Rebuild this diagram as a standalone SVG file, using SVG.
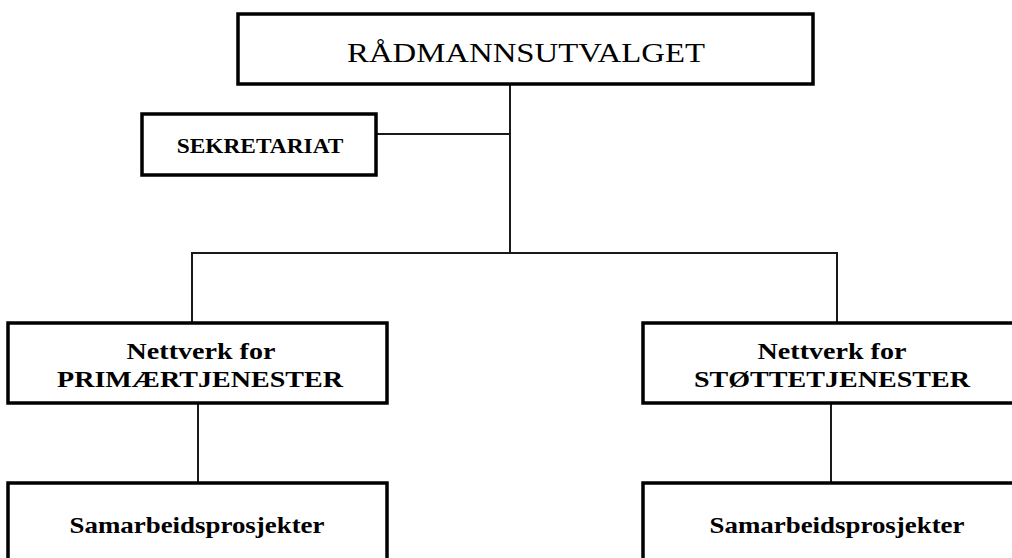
<svg xmlns="http://www.w3.org/2000/svg" width="1012" height="558" viewBox="0 0 1012 558">
<style>
.box{fill:#fff;stroke:#000;stroke-width:3.5}
.con{stroke:#1a1a1a;stroke-width:2;fill:none}
.t{font-family:"Liberation Serif","Times New Roman",serif;fill:#000;text-anchor:middle}
.b{font-weight:bold}
</style>
<rect width="1012" height="558" fill="#fff"/>
<g id="connectors">
<line class="con" x1="510" y1="84" x2="510" y2="253"/>
<line class="con" x1="376" y1="134" x2="510" y2="134"/>
<line class="con" x1="191" y1="253" x2="838" y2="253"/>
<line class="con" x1="192" y1="253" x2="192" y2="323"/>
<line class="con" x1="837" y1="253" x2="837" y2="323"/>
<line class="con" x1="198" y1="403" x2="198" y2="483"/>
<line class="con" x1="831" y1="403" x2="831" y2="483"/>
</g>
<g id="radmannsutvalget">
<rect class="box" x="238" y="14" width="575" height="70"/>
<text class="t" transform="translate(526,62) scale(1.17,1)" font-size="28">RÅDMANNSUTVALGET</text>
</g>
<g id="sekretariat">
<rect class="box" x="142" y="114" width="234" height="61"/>
<text class="t b" transform="translate(260,153) scale(1.17,1)" font-size="20">SEKRETARIAT</text>
</g>
<g id="primaer">
<rect class="box" x="8" y="323" width="379" height="80"/>
<text class="t b" transform="translate(201,359) scale(1.17,1)" font-size="24">Nettverk for</text>
<text class="t b" transform="translate(200,387) scale(1.17,1)" font-size="24">PRIMÆRTJENESTER</text>
</g>
<g id="stotte">
<rect class="box" x="643" y="323" width="390" height="80"/>
<text class="t b" transform="translate(832,359) scale(1.17,1)" font-size="24">Nettverk for</text>
<text class="t b" transform="translate(832,387) scale(1.17,1)" font-size="24">STØTTETJENESTER</text>
</g>
<g id="samarbeid-left">
<rect class="box" x="8" y="483" width="379" height="90"/>
<text class="t b" transform="translate(197,533) scale(1.17,1)" font-size="23">Samarbeidsprosjekter</text>
</g>
<g id="samarbeid-right">
<rect class="box" x="643" y="483" width="390" height="90"/>
<text class="t b" transform="translate(837,533) scale(1.17,1)" font-size="23">Samarbeidsprosjekter</text>
</g>
</svg>
